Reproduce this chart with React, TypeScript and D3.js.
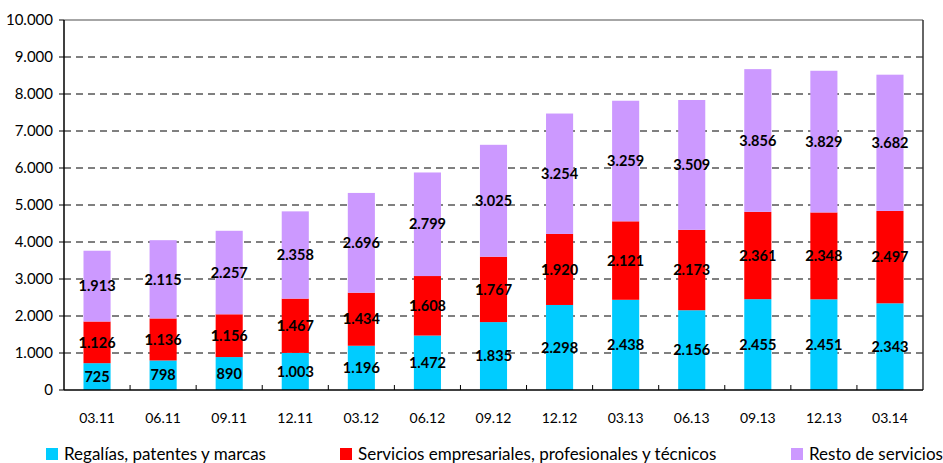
import React from "react";
import * as d3 from "d3";

const categories = ["03.11","06.11","09.11","12.11","03.12","06.12","09.12","12.12","03.13","06.13","09.13","12.13","03.14"];
const regalias = [725, 798, 890, 1003, 1196, 1472, 1835, 2298, 2438, 2156, 2455, 2451, 2343];
const servicios = [1126, 1136, 1156, 1467, 1434, 1608, 1767, 1920, 2121, 2173, 2361, 2348, 2497];
const resto = [1913, 2115, 2257, 2358, 2696, 2799, 3025, 3254, 3259, 3509, 3856, 3829, 3682];
const seriesNames = ["Regalías, patentes y marcas", "Servicios empresariales, profesionales y técnicos", "Resto de servicios"];
const seriesColors = ["#00CCFF", "#FF0000", "#CC99FF"];
const yTicks = [0, 1000, 2000, 3000, 4000, 5000, 6000, 7000, 8000, 9000, 10000];

const W = 943, H = 463;
const left = 64, right = 923, top = 20, bottom = 390;
const font = "Lato, 'Open Sans', sans-serif";

const fmt = (v: number) => {
  const s = String(v);
  return s.length > 3 ? s.slice(0, s.length - 3) + "." + s.slice(-3) : s;
};

export default function App() {
  const x = d3.scaleBand<string>().domain(categories).range([left, right]).paddingInner(0.59).paddingOuter(0.295);
  const y = d3.scaleLinear().domain([0, 10000]).range([bottom, top]);
  const table = categories.map((c, i) => ({ cat: c, a: regalias[i], b: servicios[i], c2: resto[i] }));
  const stack = d3.stack<any>().keys(["a", "b", "c2"])(table);
  const step = (right - left) / categories.length;
  const legendX = [46, 340, 791];

  return (
    <svg width={W} height={H} style={{ position: "absolute", left: 0, top: 0, background: "#fff" }}>
      {yTicks.slice(1, -1).map((t) => (
        <line key={t} x1={left} x2={right} y1={y(t)} y2={y(t)} stroke="#000" strokeWidth={1} strokeDasharray="7,5" />
      ))}
      {stack.map((layer, si) =>
        layer.map((d, i) => (
          <rect key={si + "-" + i} x={x(categories[i])} width={x.bandwidth()} y={y(d[1])} height={y(d[0]) - y(d[1])} fill={seriesColors[si]} />
        ))
      )}
      {stack.map((layer, si) =>
        layer.map((d, i) => (
          <text key={"t" + si + "-" + i} x={(x(categories[i]) as number) + x.bandwidth() / 2} y={y((d[0] + d[1]) / 2)} dy="0.36em"
            textAnchor="middle" fontFamily={font} fontWeight="bold" fontSize={14.5} fill="#000">
            {fmt(d[1] - d[0])}
          </text>
        ))
      )}
      <line x1={left} x2={right} y1={top} y2={top} stroke="#888" strokeWidth={1.5} />
      <line x1={right} x2={right} y1={top} y2={bottom} stroke="#333" strokeWidth={1.5} />
      <line x1={left} x2={left} y1={top} y2={bottom} stroke="#000" strokeWidth={1.5} />
      <line x1={left} x2={right} y1={bottom} y2={bottom} stroke="#000" strokeWidth={1.5} />
      {yTicks.map((t) => (
        <g key={"y" + t}>
          <line x1={left - 5} x2={left} y1={y(t)} y2={y(t)} stroke="#000" />
          <text x={left - 11} y={y(t)} dy="0.36em" textAnchor="end" fontFamily={font} fontSize={15} fill="#000">{fmt(t)}</text>
        </g>
      ))}
      {categories.map((c, i) => (
        <g key={"x" + c}>
          {i > 0 && <line x1={left + step * i} x2={left + step * i} y1={bottom} y2={bottom - 5} stroke="#000" />}
          <text x={(x(c) as number) + x.bandwidth() / 2} y={418} dy="0.36em" textAnchor="middle" fontFamily={font} fontSize={14} fill="#000">{c}</text>
        </g>
      ))}
      {seriesNames.map((n, i) => (
        <g key={"l" + i}>
          <rect x={legendX[i]} y={448} width={12} height={12} fill={seriesColors[i]} />
          <text x={legendX[i] + 18} y={454} dy="0.36em" fontFamily={font} fontSize={17} fill="#000">{n}</text>
        </g>
      ))}
    </svg>
  );
}
